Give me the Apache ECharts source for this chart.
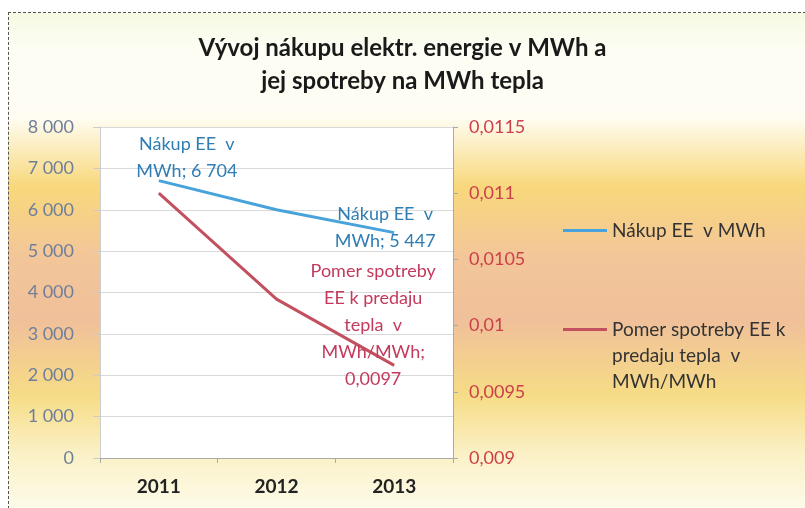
<!DOCTYPE html>
<html lang="sk">
<head>
    <meta charset="UTF-8">
    <title>Vývoj nákupu elektr. energie</title>
    <script src="https://cdn.jsdelivr.net/npm/echarts@6/dist/echarts.min.js"></script>
    <style>
        body { margin: 0; background: #fff; }
        #bg {
            position: absolute; left: 8px; top: 12px; width: 797px; height: 496px;
            border-top: 1px dashed #555; border-left: 1px dashed #555;
            background: linear-gradient(to bottom, #f5fae2 0%, #fdfdf4 7%, #fffdf3 21%, #f8d87c 35%, #f3c699 49%, #f0c09a 62%, #f6dc86 77%, #fbf1c6 89%, #fdfbea 100%);
        }
        #main { position: absolute; left: 0; top: 0; width: 805px; height: 508px; }
    </style>
</head>
<body>
    <div id="bg"></div>
    <div id="main"></div>
    <script type="text/javascript">
        const years = ['2011', '2012', '2013']
        const nakup = [6704, 6000, 5447]              // Nákup EE v MWh
        const pomer = [0.0110, 0.0102, 0.0097]        // Pomer spotreby EE k predaju tepla
        const nakupName = 'Nákup EE  v MWh'
        const pomerName = 'Pomer spotreby EE k\npredaju tepla  v\nMWh/MWh'

        const font = 'Lato, "Open Sans", sans-serif'
        const blue = '#47a3d9'
        const red = '#c2505e'

        const fmtThousands = v => String(v).replace(/\B(?=(\d{3})+(?!\d))/g, ' ')
        const fmtDecimal = v => String(parseFloat(v.toFixed(4))).replace('.', ',')

        // legend line drawn at the top of a tall box so it sits next to the first text line
        const tallLine = 'path://M0,11L44,11L44,14L0,14Z M0,0L0.01,0 M0,78L0.01,78'

        var myChart = echarts.init(document.getElementById('main'))

        var option = {
            backgroundColor: 'transparent',
            textStyle: { fontFamily: font },
            title: {
                text: 'Vývoj nákupu elektr. energie v MWh a\njej spotreby na MWh tepla',
                left: 'center',
                top: 27,
                textStyle: { fontFamily: font, fontSize: 24, fontWeight: 'bold', color: '#1a1a1a', lineHeight: 33 }
            },
            legend: [
                {
                    data: [nakupName],
                    left: 558, top: 216,
                    icon: 'rect', itemWidth: 44, itemHeight: 3, itemGap: 0,
                    textStyle: { fontFamily: font, fontSize: 19, color: '#333' }
                },
                {
                    data: [pomerName],
                    left: 558, top: 312,
                    icon: tallLine, itemWidth: 44, itemHeight: 78, itemGap: 0,
                    textStyle: { fontFamily: font, fontSize: 19, color: '#333', lineHeight: 26 }
                }
            ],
            grid: { left: 100, right: 352, top: 127, bottom: 50, show: true, backgroundColor: '#fff', borderWidth: 0 },
            xAxis: {
                type: 'category',
                data: years,
                axisLine: { lineStyle: { color: '#aaa' } },
                axisTick: { show: true, length: 5, lineStyle: { color: '#aaa' } },
                axisLabel: { margin: 19, fontFamily: font, fontSize: 19, fontWeight: 'bold', color: '#222' }
            },
            yAxis: [
                {
                    type: 'value', min: 0, max: 8000, interval: 1000,
                    axisLine: { show: true, lineStyle: { color: '#ccc' } },
                    axisTick: { show: true, length: 7, lineStyle: { color: '#ccc' } },
                    splitLine: { lineStyle: { color: '#d9d9d9' } },
                    axisLabel: { margin: 26, fontFamily: font, fontSize: 18, color: '#6f7f9b', formatter: fmtThousands }
                },
                {
                    type: 'value', min: 0.009, max: 0.0115, interval: 0.0005,
                    axisLine: { show: true, lineStyle: { color: '#aaa' } },
                    axisTick: { show: true, length: 5, lineStyle: { color: '#aaa' } },
                    splitLine: { show: false },
                    axisLabel: { margin: 16, fontFamily: font, fontSize: 18, color: '#cc3f4a', formatter: fmtDecimal }
                }
            ],
            series: [
                {
                    name: nakupName,
                    type: 'line',
                    yAxisIndex: 0,
                    symbol: 'circle',
                    symbolSize: 0,
                    lineStyle: { color: blue, width: 3 },
                    itemStyle: { color: blue },
                    label: {
                        show: true, position: 'top', distance: 0,
                        fontFamily: font, fontSize: 18, color: '#2f7db4', lineHeight: 27, align: 'center',
                        formatter: p => 'Nákup EE  v\nMWh; ' + fmtThousands(p.value)
                    },
                    data: nakup.map((v, i) => ({
                        value: v,
                        label: i === 0 ? { offset: [28, 4] } : i === 2 ? { offset: [-9, 22] } : { show: false }
                    }))
                },
                {
                    name: pomerName,
                    type: 'line',
                    yAxisIndex: 1,
                    symbol: 'circle',
                    symbolSize: 0,
                    lineStyle: { color: red, width: 3 },
                    itemStyle: { color: red },
                    label: {
                        show: true, position: 'top', distance: 0,
                        fontFamily: font, fontSize: 18, color: '#c33a5c', lineHeight: 27, align: 'center',
                        formatter: p => 'Pomer spotreby\nEE k predaju\ntepla  v\nMWh/MWh;\n' + fmtDecimal(p.value)
                    },
                    data: pomer.map((v, i) => ({
                        value: v,
                        label: i === 2 ? { offset: [-21, 27] } : { show: false }
                    }))
                }
            ]
        }

        myChart.setOption(option)
    </script>
</body>
</html>
